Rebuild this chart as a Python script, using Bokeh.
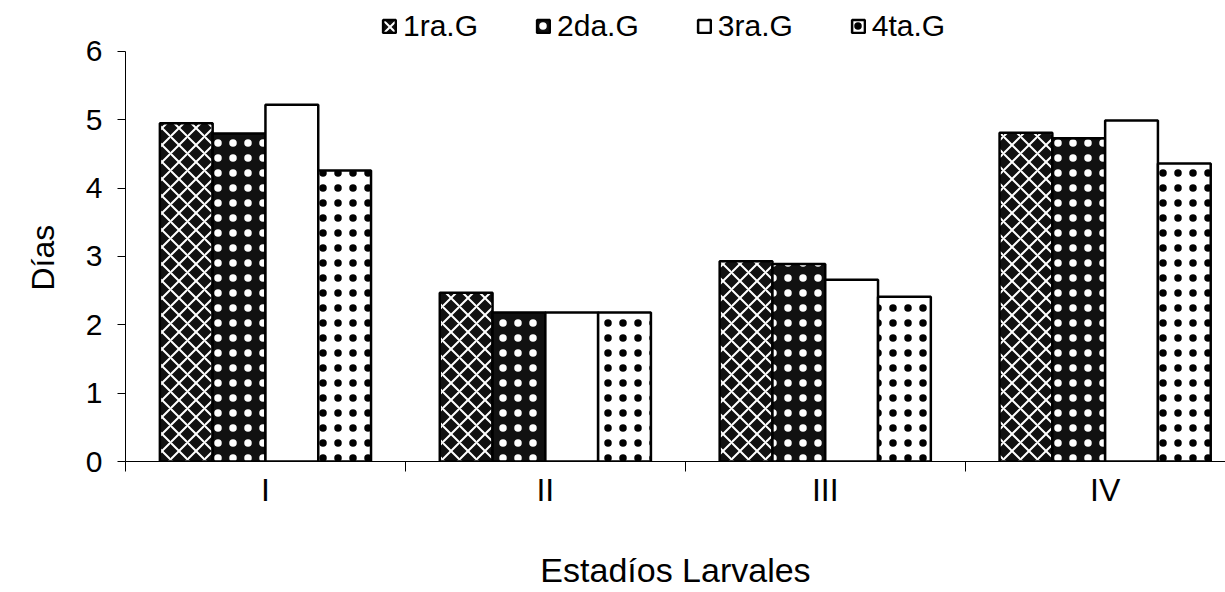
from bokeh.plotting import figure
from bokeh.models import Range1d, FixedTicker, Legend, LegendItem, ColumnDataSource, Title
from bokeh.embed import file_html
from bokeh.resources import INLINE

categories = ["I", "II", "III", "IV"]
series_names = ["1ra.G", "2da.G", "3ra.G", "4ta.G"]
g1 = [4.95, 2.47, 2.93, 4.81]
g2 = [4.80, 2.18, 2.89, 4.73]
g3 = [5.22, 2.18, 2.66, 4.99]
g4 = [4.26, 2.18, 2.41, 4.36]
y_ticks = [0, 1, 2, 3, 4, 5, 6]

FONT = "Liberation Sans"
n = len(categories)
centers = [i + 0.5 for i in range(n)]
bar_w = 0.1886

# frame spans the full height above the x axis; room on top holds the legend
p = figure(width=1225, height=592, output_backend="svg", toolbar_location=None,
           x_range=Range1d(0, 3.93), y_range=Range1d(0, 6.746),
           min_border_left=121, min_border_right=0, min_border_bottom=131,
           min_border_top=0)
p.background_fill_color = "white"
p.border_fill_color = "white"
p.outline_line_color = None
p.grid.visible = False

styles = [
    dict(fill_color="#111111", hatch_pattern="diagonal_cross", hatch_color="white",
         hatch_weight=2, hatch_scale=17),
    dict(fill_color="#111111", hatch_pattern="dot", hatch_color="white",
         hatch_weight=1, hatch_scale=15),
    dict(fill_color="white"),
    dict(fill_color="white", hatch_pattern="dot", hatch_color="black",
         hatch_weight=1, hatch_scale=15),
]
series = [g1, g2, g3, g4]
items = []
for k, (vals, name, st) in enumerate(zip(series, series_names, styles)):
    off = (k - 1.5) * bar_w
    src = ColumnDataSource(dict(x=[c + off for c in centers], top=vals))
    r = p.vbar(x="x", top="top", width=bar_w, bottom=0, source=src,
               line_color="black", line_width=2.5, **st)
    items.append(LegendItem(label=name, renderers=[r]))

legend = Legend(items=items, orientation="horizontal", location=(256, 418),
                label_text_font=FONT, label_text_font_size="30px",
                label_text_color="black",
                glyph_width=16, glyph_height=16, label_standoff=6, spacing=57,
                border_line_color=None, background_fill_alpha=0,
                padding=4, margin=0)
p.add_layout(legend, "center")

# y axis
ya = p.yaxis[0]
ya.ticker = FixedTicker(ticks=y_ticks)
ya.bounds = (0, 6)
ya.major_tick_out = 8
ya.major_tick_in = 0
ya.minor_tick_line_color = None
ya.major_label_text_font = FONT
ya.major_label_text_font_size = "30px"
ya.major_label_text_color = "black"
ya.major_label_standoff = 15
ya.axis_line_color = "black"
ya.major_tick_line_color = "black"

ytitle = Title(text="Días", align="left", offset=171, standoff=44,
               text_font=FONT, text_font_size="32px", text_font_style="normal",
               text_color="black")
p.add_layout(ytitle, "left")

# x axis: labels at category centres, ticks at group boundaries
xa = p.xaxis[0]
xa.ticker = FixedTicker(ticks=centers, minor_ticks=list(range(n)))
xa.major_label_overrides = {c: lab for c, lab in zip(centers, categories)}
xa.major_tick_line_color = None
xa.major_tick_out = 10
xa.minor_tick_out = 10
xa.minor_tick_in = 0
xa.minor_tick_line_color = "black"
xa.major_label_text_font = FONT
xa.major_label_text_font_size = "32px"
xa.major_label_text_color = "black"
xa.major_label_standoff = 0
xa.axis_line_color = "black"
xa.axis_label = "Estadíos Larvales"
xa.axis_label_text_font = FONT
xa.axis_label_text_font_size = "34px"
xa.axis_label_text_color = "black"
xa.axis_label_text_font_style = "normal"
xa.axis_label_standoff = 40

open("out.html", "w").write(file_html(p, INLINE))
